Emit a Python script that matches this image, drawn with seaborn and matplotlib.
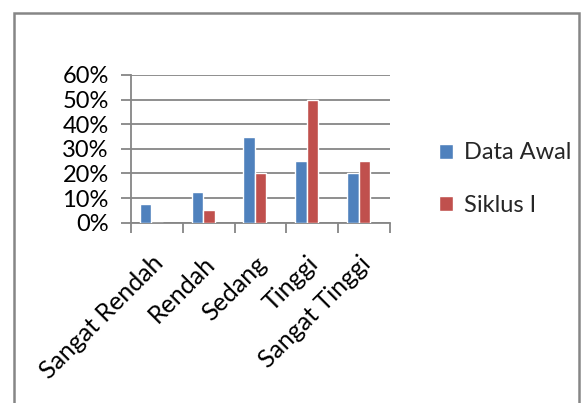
import matplotlib
matplotlib.use("Agg")
import matplotlib.pyplot as plt
from matplotlib.lines import Line2D
from matplotlib.ticker import FuncFormatter, FixedLocator
from matplotlib.transforms import ScaledTranslation
import pandas as pd
import seaborn as sns

categories = ["Sangat Rendah", "Rendah", "Sedang", "Tinggi", "Sangat Tinggi"]
data_awal = [0.075, 0.125, 0.35, 0.25, 0.20]
siklus_1 = [0.0, 0.05, 0.20, 0.50, 0.25]
series_names = ["Data Awal", "Siklus I"]
colors = ["#4F81BD", "#C0504D"]
y_ticks = [0.0, 0.1, 0.2, 0.3, 0.4, 0.5, 0.6]

df = pd.DataFrame({
    "kategori": categories * 2,
    "nilai": data_awal + siklus_1,
    "seri": [series_names[0]] * len(categories) + [series_names[1]] * len(categories),
})

sns.set_theme(style="white")
plt.rcParams["font.family"] = ["Lato", "DejaVu Sans"]
grid_gray = "#868686"

W, H = 582, 403
fig = plt.figure(figsize=(W / 100, H / 100), dpi=100)
ax = fig.add_axes([0.225, 0.4474, 0.445, 0.3666])

sns.barplot(data=df, x="kategori", y="nilai", hue="seri", palette=colors,
            width=0.445, gap=0, saturation=1, ax=ax, legend=True, zorder=3)

shift = 0.106
ax.set_xlim(-0.5 + shift, 4.5 + shift)
ax.set_ylim(0, 0.6)
ax.set_yticks(y_ticks)
ax.yaxis.set_major_formatter(FuncFormatter(lambda v, _: f"{v:.0%}"))
ax.yaxis.grid(True, color=grid_gray, linewidth=1.3, zorder=0)
ax.set_axisbelow(True)

ax.set_xticks(range(len(categories)))
ax.set_xticklabels(categories, rotation=45, ha="right", rotation_mode="anchor")
ax.xaxis.set_minor_locator(FixedLocator([-0.5 + shift + k for k in range(len(categories) + 1)]))
ax.tick_params(axis="x", which="major", length=0, pad=10, labelsize=18, colors="black")
ax.tick_params(axis="x", which="minor", length=7, width=1.3, color=grid_gray, direction="out", bottom=True)
ax.tick_params(axis="y", which="major", length=7, width=1.3, color=grid_gray, direction="out",
               left=True, labelsize=17, labelcolor="black", pad=9)

# nudge the slanted category labels down
label_offset = ScaledTranslation(0.0, -0.15, fig.dpi_scale_trans)
for lbl in ax.get_xticklabels():
    lbl.set_transform(lbl.get_transform() + label_offset)

ax.set_xlabel("")
ax.set_ylabel("")
for side in ["top", "right"]:
    ax.spines[side].set_visible(False)
for side in ["left", "bottom"]:
    ax.spines[side].set_color(grid_gray)
    ax.spines[side].set_linewidth(1.3)

handles, labels = ax.get_legend_handles_labels()
ax.legend(handles, labels, loc="center left", bbox_to_anchor=(0.754, 0.555),
          bbox_transform=fig.transFigure, frameon=False, fontsize=17,
          handlelength=0.6, handleheight=0.6, handletextpad=0.45, labelspacing=1.35,
          borderpad=0, borderaxespad=0)

# outer chart-area frame (left, top and right edges; the bottom runs off the canvas)
x0, x1, y_top = 14 / W, 579 / W, 1 - 13 / H
fig.add_artist(Line2D([x0, x0, x1, x1], [0, y_top, y_top, 0], transform=fig.transFigure,
                      color=grid_gray, linewidth=1.8, solid_joinstyle="miter"))

fig.savefig("out.png", dpi=100)
